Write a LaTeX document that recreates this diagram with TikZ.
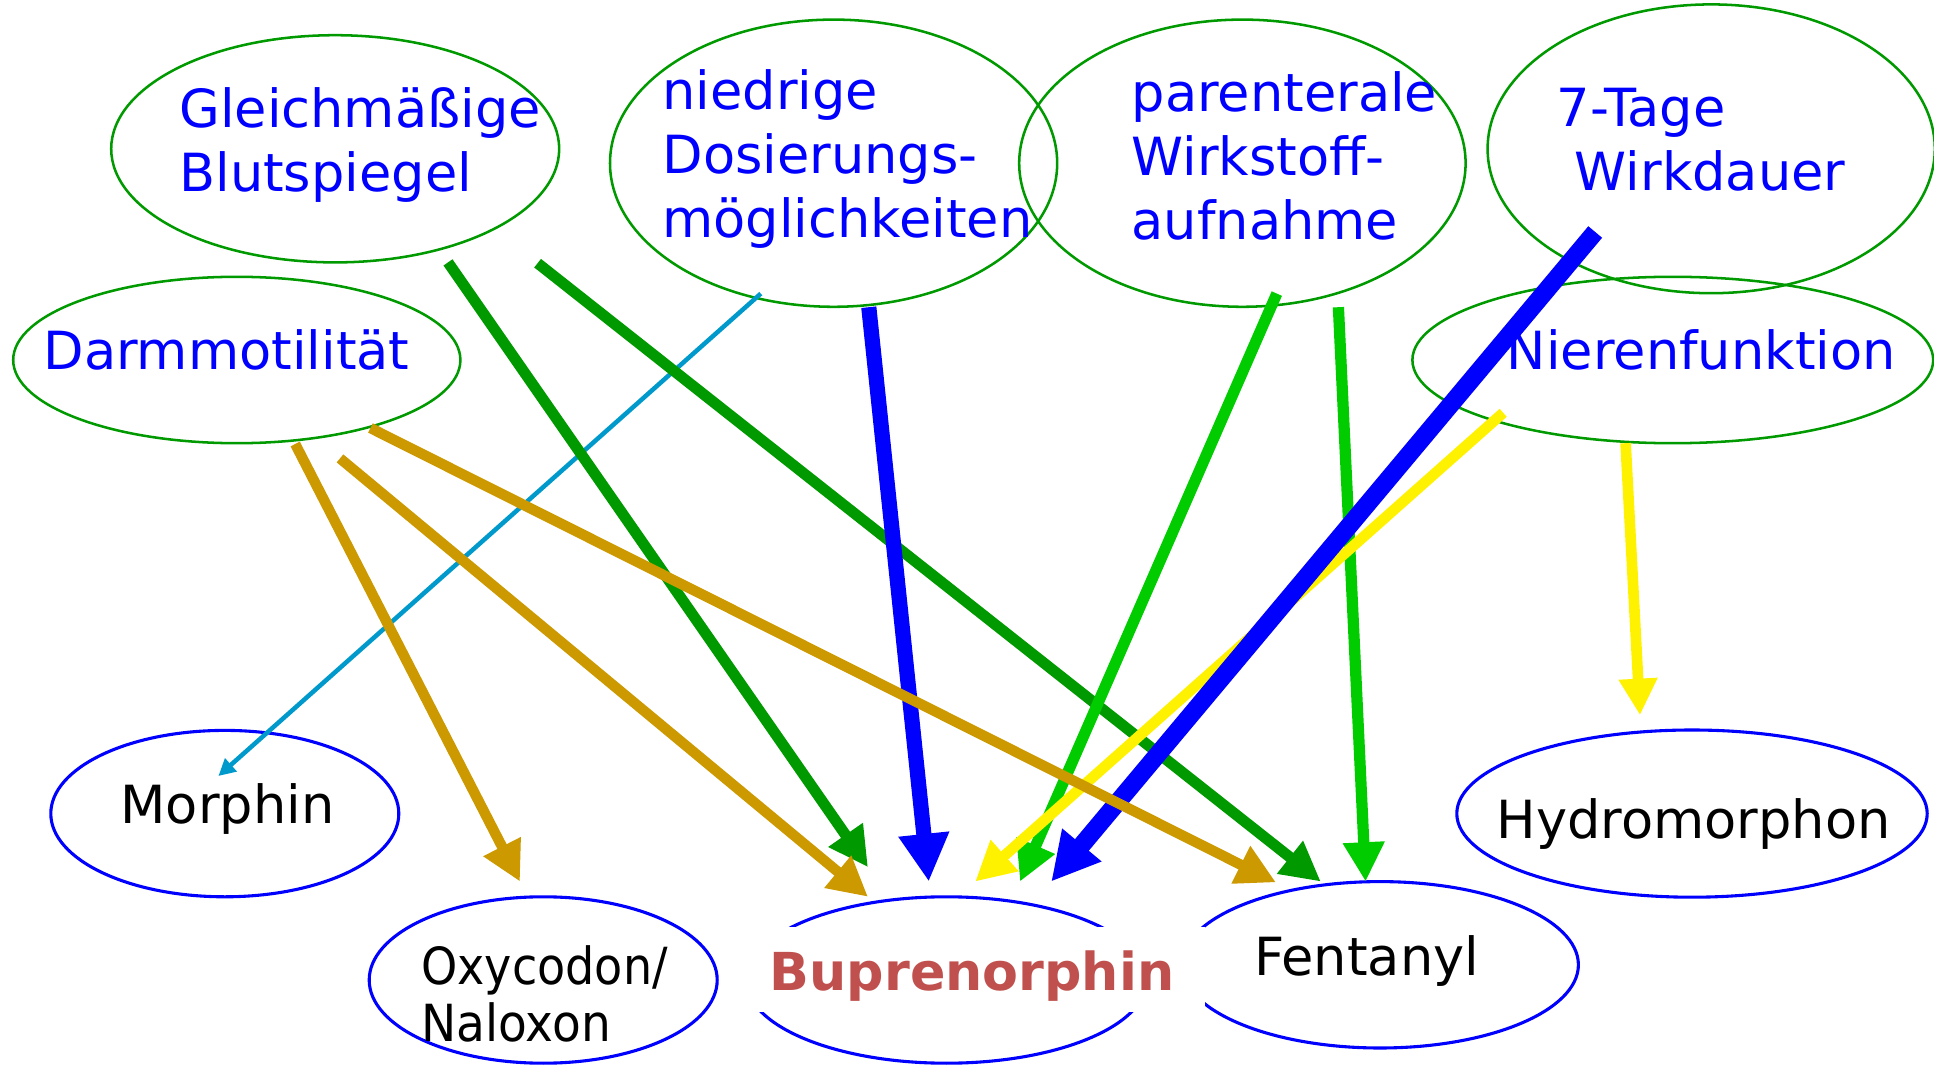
\documentclass[tikz,border=0pt]{standalone}
\usepackage{fontspec}
\setmainfont{DejaVu Sans}
\usetikzlibrary{shapes.geometric}
\usetikzlibrary{arrows.meta}

\definecolor{causegreen}{HTML}{009900}
\definecolor{lightgreen}{HTML}{00CC00}
\definecolor{gold}{HTML}{CC9900}
\definecolor{skyblue}{HTML}{0099CC}
\definecolor{bupred}{HTML}{C0504D}

\tikzset{
  factor/.style={shape=ellipse, draw=causegreen, line width=0.9pt, inner sep=0pt},
  drug/.style={shape=ellipse, draw=blue, line width=1.1pt, inner sep=0pt},
  factortext/.style={text=blue, align=left, anchor=base west, inner sep=0pt},
  drugtext/.style={text=black, align=left, anchor=base west, inner sep=0pt},
  link/.style n args={3}{draw=#1, line width=#2, -{Triangle[length=#3, width=#3]}},
}

\begin{document}
\begin{tikzpicture}[font=\fontsize{18.7}{22.8}\selectfont]
            \useasboundingbox (0,0) rectangle (24.175,-13.3375);

            % Einflussfaktoren
            \node[factor, minimum width=5.6cm, minimum height=2.84cm] (gleich) at (4.19,-1.86) {};
            \node[factor, minimum width=5.59cm, minimum height=3.59cm] (niedrig) at (10.42,-2.04) {};
            \node[factor, minimum width=5.58cm, minimum height=3.59cm] (parent) at (15.53,-2.04) {};
            \node[factor, minimum width=5.59cm, minimum height=3.61cm] (tage) at (21.39,-1.86) {};
            \node[factor, minimum width=5.59cm, minimum height=2.08cm] (darm) at (2.96,-4.5) {};
            \node[factor, minimum width=6.51cm, minimum height=2.08cm] (nieren) at (20.91,-4.5) {};

            % Opioide
            \node[drug, minimum width=4.35cm, minimum height=2.08cm] (morphin) at (2.81,-10.17) {};
            \node[drug, minimum width=4.35cm, minimum height=2.08cm] (oxy) at (6.79,-12.25) {};
            \node[drug, minimum width=5.01cm, minimum height=2.08cm] (bupr) at (11.83,-12.25) {};
            \node[drug, minimum width=4.96cm, minimum height=2.08cm] (fent) at (17.25,-12.06) {};
            \node[drug, minimum width=5.88cm, minimum height=2.09cm] (hydro) at (21.15,-10.17) {};

            \node[factortext] (gleich-txt) at (2.235,-2.396) {Gleichmäßige\\Blutspiegel};
            \node[factortext] (niedrig-txt) at (8.275,-2.966) {niedrige\\Dosierungs-\\möglichkeiten};
            \node[factortext] (parent-txt) at (14.14,-3.0) {parenterale\\Wirkstoff-\\aufnahme};
            \node[factortext] (tage-txt) at (19.45,-2.3875) {7-Tage\\\hspace*{.35em}Wirkdauer};
            \node[factortext] (darm-txt) at (0.5375,-4.616) {Darmmotilität};
            \node[factortext] (nieren-txt) at (18.83,-4.625) {Nierenfunktion};

            \node[drugtext] (morphin-txt) at (1.5,-10.29) {Morphin};
            \node[drugtext, font=\fontsize{18.2}{20.4}\selectfont] (oxy-txt) at (5.26,-13.02)
                  {\scalebox{0.9}[1]{Oxycodon/}\\\scalebox{0.92}[1]{Naloxon}};
            \node[fill=white, anchor=base, inner xsep=11pt, inner ysep=0pt, text height=22.4pt, text depth=7.8pt,
                  text=bupred, font=\fontsize{18.6}{22}\selectfont\bfseries] (bupr-txt) at (12.15,-12.375) {Buprenorphin};
            \node[drugtext] (fent-txt) at (15.67,-12.19) {Fentanyl};
            \node[drugtext] (hydro-txt) at (18.70,-10.475) {Hydromorphon};

            % Verbindungen
            \draw[link={skyblue}{1.6pt}{6pt}] ([shift={(-0.91,-1.63)}]niedrig.center) -- ([shift={(-0.08,0.47)}]morphin.center);
            \draw[link={causegreen}{3.9pt}{14pt}] ([shift={(1.41,-1.42)}]gleich.center) -- ([shift={(-0.98,1.41)}]bupr.center);
            \draw[link={causegreen}{3.9pt}{14pt}] ([shift={(2.53,-1.43)}]gleich.center) -- ([shift={(-0.74,1.04)}]fent.center);
            \draw[link={blue}{5.4pt}{17pt}] ([shift={(0.44,-1.8)}]niedrig.center) -- ([shift={(-0.22,1.23)}]bupr.center);
            \draw[link={lightgreen}{4pt}{14pt}] ([shift={(0.43,-1.63)}]parent.center) -- ([shift={(0.92,1.23)}]bupr.center);
            \draw[link={lightgreen}{4pt}{14pt}] ([shift={(1.2,-1.8)}]parent.center) -- ([shift={(-0.18,1.04)}]fent.center);
            \draw[link={yellow}{3.8pt}{14pt}] ([shift={(-2.12,-0.66)}]nieren.center) -- ([shift={(0.36,1.23)}]bupr.center);
            \draw[link={blue}{6.4pt}{17pt}] ([shift={(-1.45,-1.04)}]tage.center) -- ([shift={(1.31,1.23)}]bupr.center);
            \draw[link={yellow}{3.8pt}{13pt}] ([shift={(-0.59,-1.04)}]nieren.center) -- ([shift={(-0.65,1.23)}]hydro.center);
            \draw[link={gold}{3.7pt}{14pt}] ([shift={(0.73,-1.05)}]darm.center) -- ([shift={(-0.29,1.23)}]oxy.center);
            \draw[link={gold}{3.7pt}{14pt}] ([shift={(1.29,-1.23)}]darm.center) -- ([shift={(-0.98,1.04)}]bupr.center);
            \draw[link={gold}{3.7pt}{14pt}] ([shift={(1.67,-0.85)}]darm.center) -- ([shift={(-1.3,1.03)}]fent.center);
\end{tikzpicture}
\end{document}
